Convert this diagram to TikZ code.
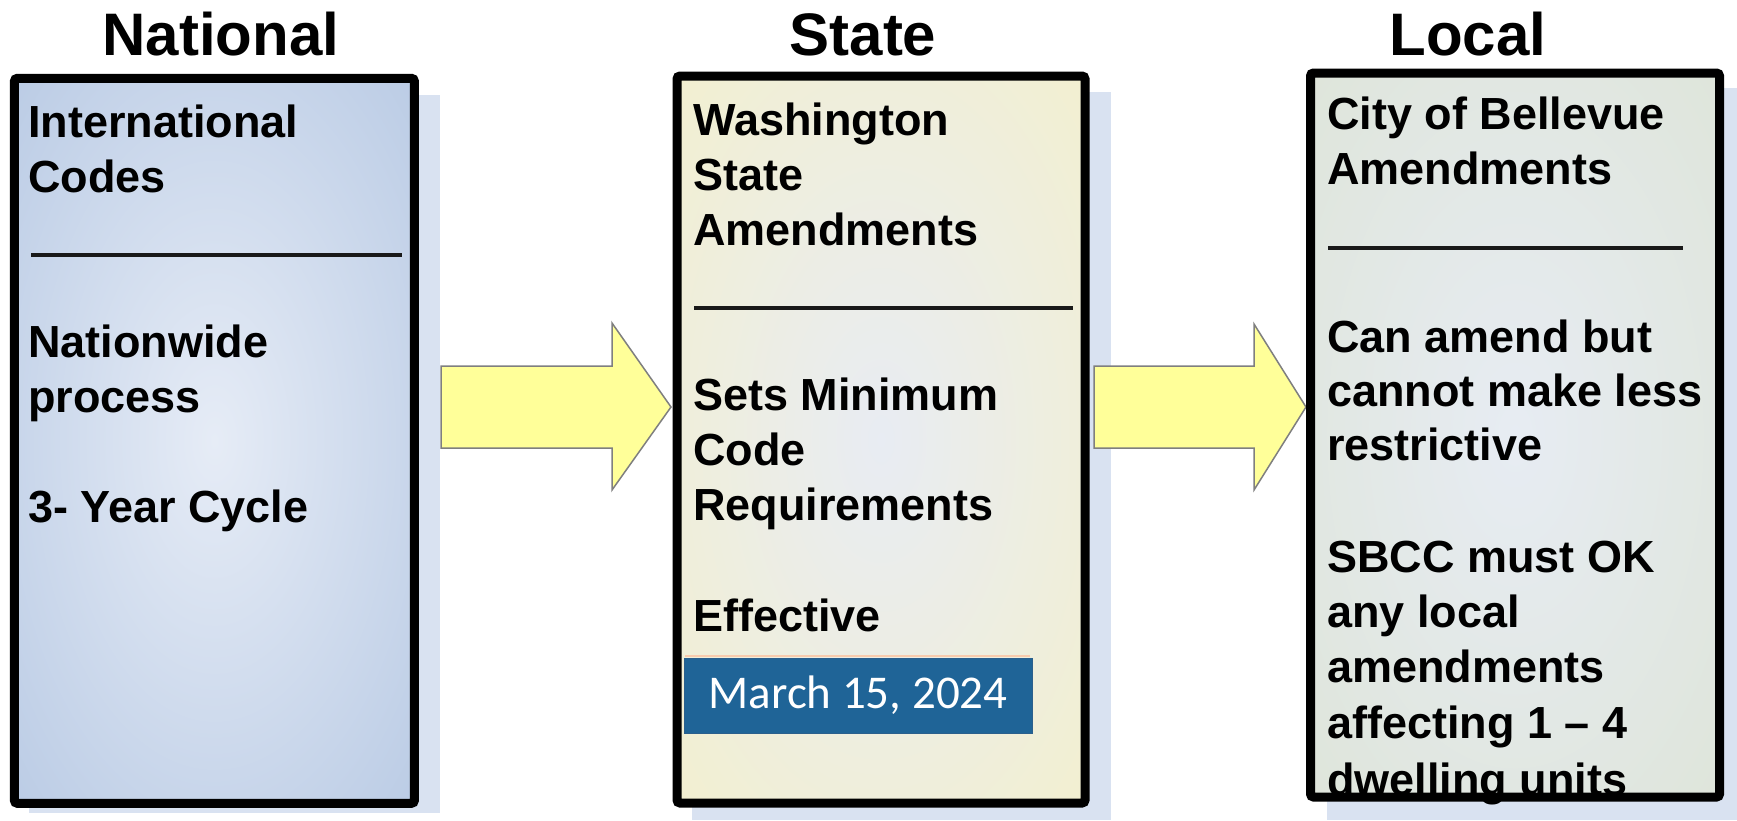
\documentclass[tikz,border=0pt]{standalone}
\usepackage{fontspec}
\setmainfont{Liberation Sans}
\newfontfamily\datefont{Carlito}
\definecolor{natedge}{HTML}{B3C6E2}
\definecolor{natmid}{HTML}{E6ECF6}
\definecolor{staedge}{HTML}{F5F0C8}
\definecolor{stamid}{HTML}{E8ECF3}
\definecolor{locedge}{HTML}{DCE3D3}
\definecolor{locmid}{HTML}{E7ECF3}
\definecolor{shadowblue}{HTML}{D9E2F1}
\definecolor{arrowfill}{HTML}{FFFF99}
\definecolor{arrowline}{HTML}{7F7F7F}
\definecolor{datefill}{HTML}{1F6497}
\definecolor{dateedge}{HTML}{2B5F8C}
\definecolor{dateline}{HTML}{F8CBAD}
\pgfdeclareradialshading{natshade}{\pgfpoint{0bp}{0bp}}{color(0bp)=(natmid); color(42bp)=(natedge); color(75bp)=(natedge)}
\pgfdeclareradialshading{stashade}{\pgfpoint{0bp}{0bp}}{color(0bp)=(stamid); color(44bp)=(staedge); color(75bp)=(staedge)}
\pgfdeclareradialshading{locshade}{\pgfpoint{0bp}{0bp}}{color(0bp)=(locmid); color(46bp)=(locedge); color(75bp)=(locedge)}
\tikzset{
  panel/.style={rectangle, inner sep=0pt, outer sep=0pt, draw=none},
  border/.style={draw=black, line width=9pt, rounded corners=3pt},
  title/.style={font=\fontsize{60}{66}\selectfont\bfseries, inner sep=0pt, anchor=base},
  body/.style={font=\fontsize{45}{55}\selectfont\bfseries, inner sep=0pt, anchor=base west},
  rule/.style={draw=black!90, line width=3.5pt},
  blockarrow/.style={fill=arrowfill, draw=arrowline, line width=1.5pt, line join=miter},
  datebox/.style={rectangle, fill=datefill, draw=dateedge, line width=1pt, inner sep=0pt,
    minimum width=348pt, minimum height=75pt, text=white, font=\datefont\fontsize{47}{52}\selectfont}
}
\begin{document}
\begin{tikzpicture}[x=1pt, y=-1pt]
\useasboundingbox (0,0) rectangle (1737,820);
% shadows
\fill[shadowblue] (29,95) rectangle (440,813);
\fill[shadowblue] (692,92) rectangle (1111,820);
\fill[shadowblue] (1327,88) rectangle (1737,820);
% panels
\node[panel, shading=natshade, minimum width=400pt, minimum height=725pt] (nat) at (214.4,440.8) {};
\node[panel, shading=stashade, minimum width=408pt, minimum height=727pt] (sta) at (881,439.5) {};
\node[panel, shading=locshade, minimum width=409pt, minimum height=724pt] (loc) at (1515,435) {};
% titles
\node[title] (tnat) at (221,55) {National};
\node[title] (tsta) at (863,55) {State};
\node[title] (tloc) at (1468,55) {Local};
% block arrows
\draw[blockarrow] (441,366) -- (612,366) -- (612,323) -- (671,407) -- (612,490) -- (612,448) -- (441,448) -- cycle;
\draw[blockarrow] (1094,366) -- (1254,366) -- (1254,324) -- (1306,407) -- (1254,490) -- (1254,448) -- (1094,448) -- cycle;
% national text
\foreach \yy/\tt [count=\i] in {137/International, 192/Codes, 357/Nationwide, 412/process, 522/3- Year Cycle}
  \node[body] (a\i) at (28,\yy) {\tt};
\draw[rule] (31,255) -- (402,255);
% state text
\foreach \yy/\tt [count=\i] in {135/Washington, 190/State, 245/Amendments, 410/Sets Minimum, 465/Code, 520/Requirements, 631/Effective}
  \node[body] (b\i) at (693,\yy) {\tt};
\draw[rule] (694,308) -- (1073,308);
\draw[dateline, line width=2.5pt] (685,656) -- (1030,656);
\node[datebox] (date) at (858,695.5) {March 15, 2024};
% local text
\foreach \yy/\tt [count=\i] in {129/City of Bellevue, 184/Amendments, 352/Can amend but, 406/cannot make less, 460/restrictive, 572/SBCC must OK, 627/any local, 682/amendments, 738/affecting 1 – 4, 795/dwelling units}
  \node[body] (c\i) at (1327,\yy) {\tt};
\draw[rule] (1328,248) -- (1683,248);
% borders
\draw[border] (nat.north west) rectangle (nat.south east);
\draw[border] (sta.north west) rectangle (sta.south east);
\draw[border] (loc.north west) rectangle (loc.south east);
\end{tikzpicture}
\end{document}
